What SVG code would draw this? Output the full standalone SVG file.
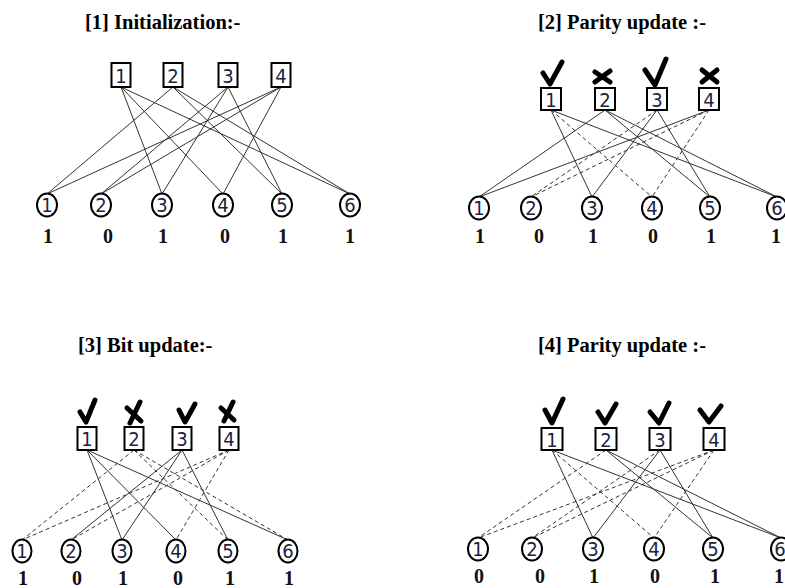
<svg xmlns="http://www.w3.org/2000/svg" width="785" height="588" viewBox="0 0 785 588">
  <style>
    .title { font-family: "Liberation Serif", serif; font-weight: bold; font-size: 20.5px; fill: #000; }
    .bit { font-family: "Liberation Serif", serif; font-weight: bold; font-size: 20px; fill: #111; text-anchor: middle; }
    .chk rect { fill: #fff; stroke: #000; stroke-width: 2; }
    .var ellipse { fill: #fff; stroke: #000; stroke-width: 2; }
    .num { font-family: "Liberation Sans Narrow", "DejaVu Sans Condensed", sans-serif; font-size: 20px; fill: #1b2440; text-anchor: middle; }
    .edge { stroke: #333; stroke-width: 1; fill: none; }
    .dash { stroke-dasharray: 4 3; }
    .tick { fill: none; stroke: #000; stroke-width: 5; stroke-linecap: round; stroke-linejoin: round; }
  </style>
  <rect width="785" height="588" fill="#fff"/>

  <!-- Titles -->
  <text class="title" x="85" y="29">[1] Initialization:-</text>
  <text class="title" x="538" y="29">[2] Parity update :-</text>
  <text class="title" x="78" y="352">[3] Bit update:-</text>
  <text class="title" x="538" y="352">[4] Parity update :-</text>

  <!-- Connectors: check node bottom to bit node top -->
  <g id="connectors">
    <!-- Panel 1 -->
    <g id="p1-edges">
      <line class="edge" x1="121" y1="87" x2="162" y2="194"/>
      <line class="edge" x1="121" y1="87" x2="223" y2="194"/>
      <line class="edge" x1="121" y1="87" x2="350" y2="194"/>
      <line class="edge" x1="173" y1="87" x2="47" y2="194"/>
      <line class="edge" x1="173" y1="87" x2="282" y2="194"/>
      <line class="edge" x1="173" y1="87" x2="350" y2="194"/>
      <line class="edge" x1="228" y1="87" x2="101" y2="194"/>
      <line class="edge" x1="228" y1="87" x2="162" y2="194"/>
      <line class="edge" x1="228" y1="87" x2="282" y2="194"/>
      <line class="edge" x1="281" y1="87" x2="47" y2="194"/>
      <line class="edge" x1="281" y1="87" x2="101" y2="194"/>
      <line class="edge" x1="281" y1="87" x2="223" y2="194"/>
    </g>
    <!-- Panel 2 -->
    <g id="p2-edges">
      <line class="edge" x1="551" y1="110" x2="592" y2="197"/>
      <line class="edge dash" x1="551" y1="110" x2="652" y2="197"/>
      <line class="edge" x1="551" y1="110" x2="777" y2="197"/>
      <line class="edge" x1="605" y1="110" x2="479" y2="197"/>
      <line class="edge" x1="605" y1="110" x2="710" y2="197"/>
      <line class="edge" x1="605" y1="110" x2="777" y2="197"/>
      <line class="edge dash" x1="657" y1="110" x2="531" y2="197"/>
      <line class="edge" x1="657" y1="110" x2="592" y2="197"/>
      <line class="edge" x1="657" y1="110" x2="710" y2="197"/>
      <line class="edge" x1="709" y1="110" x2="479" y2="197"/>
      <line class="edge dash" x1="709" y1="110" x2="531" y2="197"/>
      <line class="edge dash" x1="709" y1="110" x2="652" y2="197"/>
    </g>
    <!-- Panel 3 -->
    <g id="p3-edges">
      <line class="edge" x1="87" y1="450" x2="122" y2="540"/>
      <line class="edge" x1="87" y1="450" x2="176" y2="540"/>
      <line class="edge" x1="87" y1="450" x2="288" y2="540"/>
      <line class="edge dash" x1="134" y1="450" x2="22" y2="540"/>
      <line class="edge dash" x1="134" y1="450" x2="228" y2="540"/>
      <line class="edge dash" x1="134" y1="450" x2="288" y2="540"/>
      <line class="edge" x1="182" y1="450" x2="71" y2="540"/>
      <line class="edge" x1="182" y1="450" x2="122" y2="540"/>
      <line class="edge" x1="182" y1="450" x2="228" y2="540"/>
      <line class="edge dash" x1="229" y1="450" x2="22" y2="540"/>
      <line class="edge dash" x1="229" y1="450" x2="71" y2="540"/>
      <line class="edge dash" x1="229" y1="450" x2="176" y2="540"/>
    </g>
    <!-- Panel 4 -->
    <g id="p4-edges">
      <line class="edge" x1="552" y1="450" x2="593" y2="538"/>
      <line class="edge dash" x1="552" y1="450" x2="654" y2="538"/>
      <line class="edge" x1="552" y1="450" x2="781" y2="538"/>
      <line class="edge dash" x1="606" y1="450" x2="478" y2="538"/>
      <line class="edge" x1="606" y1="450" x2="713" y2="538"/>
      <line class="edge" x1="606" y1="450" x2="781" y2="538"/>
      <line class="edge dash" x1="660" y1="450" x2="532" y2="538"/>
      <line class="edge" x1="660" y1="450" x2="593" y2="538"/>
      <line class="edge" x1="660" y1="450" x2="713" y2="538"/>
      <line class="edge dash" x1="714" y1="450" x2="478" y2="538"/>
      <line class="edge dash" x1="714" y1="450" x2="532" y2="538"/>
      <line class="edge dash" x1="714" y1="450" x2="654" y2="538"/>
    </g>
  </g>

  <!-- Panel 1 check nodes -->
  <g id="p1-c1" class="chk"><rect x="111.5" y="63" width="19" height="24"/><text class="num" x="121" y="83">1</text></g>
  <g id="p1-c2" class="chk"><rect x="163.5" y="63" width="19" height="24"/><text class="num" x="173" y="83">2</text></g>
  <g id="p1-c3" class="chk"><rect x="218.5" y="63" width="19" height="24"/><text class="num" x="228" y="83">3</text></g>
  <g id="p1-c4" class="chk"><rect x="271.5" y="63" width="19" height="24"/><text class="num" x="281" y="83">4</text></g>
  <!-- Panel 1 bit nodes -->
  <g id="p1-v1" class="var"><ellipse cx="47" cy="205" rx="10" ry="11.5"/><text class="num" x="47" y="212">1</text><text class="bit" x="48" y="243">1</text></g>
  <g id="p1-v2" class="var"><ellipse cx="101" cy="205" rx="10" ry="11.5"/><text class="num" x="101" y="212">2</text><text class="bit" x="108" y="243">0</text></g>
  <g id="p1-v3" class="var"><ellipse cx="162" cy="205" rx="10" ry="11.5"/><text class="num" x="162" y="212">3</text><text class="bit" x="163" y="243">1</text></g>
  <g id="p1-v4" class="var"><ellipse cx="223" cy="205" rx="10" ry="11.5"/><text class="num" x="223" y="212">4</text><text class="bit" x="225" y="243">0</text></g>
  <g id="p1-v5" class="var"><ellipse cx="282" cy="205" rx="10" ry="11.5"/><text class="num" x="282" y="212">5</text><text class="bit" x="283" y="243">1</text></g>
  <g id="p1-v6" class="var"><ellipse cx="350" cy="205" rx="10" ry="11.5"/><text class="num" x="350" y="212">6</text><text class="bit" x="350" y="243">1</text></g>

  <!-- Panel 2 check nodes with parity marks -->
  <g id="p2-c1" class="chk"><path class="tick" d="M543,73 L550,84 L562,62"/><rect x="541" y="88" width="20" height="22"/><text class="num" x="551" y="107">1</text></g>
  <g id="p2-c2" class="chk"><path class="tick" d="M595,72 L610,82 M610,71 L595,82"/><rect x="595" y="88" width="20" height="22"/><text class="num" x="605" y="107">2</text></g>
  <g id="p2-c3" class="chk"><path class="tick" d="M645,70 L655,85 L666,59"/><rect x="647" y="88" width="20" height="22"/><text class="num" x="657" y="107">3</text></g>
  <g id="p2-c4" class="chk"><path class="tick" d="M702,70 L717,82 M717,70 L702,82"/><rect x="699" y="88" width="20" height="22"/><text class="num" x="709" y="107">4</text></g>
  <!-- Panel 2 bit nodes -->
  <g id="p2-v1" class="var"><ellipse cx="479" cy="208" rx="10" ry="11.5"/><text class="num" x="479" y="215">1</text><text class="bit" x="480" y="243">1</text></g>
  <g id="p2-v2" class="var"><ellipse cx="531" cy="208" rx="10" ry="11.5"/><text class="num" x="531" y="215">2</text><text class="bit" x="539" y="243">0</text></g>
  <g id="p2-v3" class="var"><ellipse cx="592" cy="208" rx="10" ry="11.5"/><text class="num" x="592" y="215">3</text><text class="bit" x="593" y="243">1</text></g>
  <g id="p2-v4" class="var"><ellipse cx="652" cy="208" rx="10" ry="11.5"/><text class="num" x="652" y="215">4</text><text class="bit" x="653" y="243">0</text></g>
  <g id="p2-v5" class="var"><ellipse cx="710" cy="208" rx="10" ry="11.5"/><text class="num" x="710" y="215">5</text><text class="bit" x="711" y="243">1</text></g>
  <g id="p2-v6" class="var"><ellipse cx="777" cy="208" rx="10" ry="11.5"/><text class="num" x="777" y="215">6</text><text class="bit" x="776" y="243">1</text></g>

  <!-- Panel 3 check nodes with parity marks -->
  <g id="p3-c1" class="chk"><path class="tick" d="M80,412 L86,422 L95,400"/><rect x="77.5" y="427" width="19" height="23"/><text class="num" x="87" y="446">1</text></g>
  <g id="p3-c2" class="chk"><path class="tick" d="M127,408 L141,421 M140,402 L130,423"/><rect x="124.5" y="427" width="19" height="23"/><text class="num" x="134" y="446">2</text></g>
  <g id="p3-c3" class="chk"><path class="tick" d="M179,410 L185,422 L195,404"/><rect x="172.5" y="427" width="19" height="23"/><text class="num" x="182" y="446">3</text></g>
  <g id="p3-c4" class="chk"><path class="tick" d="M221,408 L234,420 M233,402 L224,421"/><rect x="219.5" y="427" width="19" height="23"/><text class="num" x="229" y="446">4</text></g>
  <!-- Panel 3 bit nodes -->
  <g id="p3-v1" class="var"><ellipse cx="22" cy="551" rx="9.5" ry="11.5"/><text class="num" x="22" y="558">1</text><text class="bit" x="23" y="585">1</text></g>
  <g id="p3-v2" class="var"><ellipse cx="71" cy="551" rx="9.5" ry="11.5"/><text class="num" x="71" y="558">2</text><text class="bit" x="77" y="585">0</text></g>
  <g id="p3-v3" class="var"><ellipse cx="122" cy="551" rx="9.5" ry="11.5"/><text class="num" x="122" y="558">3</text><text class="bit" x="123" y="585">1</text></g>
  <g id="p3-v4" class="var"><ellipse cx="176" cy="551" rx="9.5" ry="11.5"/><text class="num" x="176" y="558">4</text><text class="bit" x="178" y="585">0</text></g>
  <g id="p3-v5" class="var"><ellipse cx="228" cy="551" rx="9.5" ry="11.5"/><text class="num" x="228" y="558">5</text><text class="bit" x="230" y="585">1</text></g>
  <g id="p3-v6" class="var"><ellipse cx="288" cy="551" rx="9.5" ry="11.5"/><text class="num" x="288" y="558">6</text><text class="bit" x="289" y="585">1</text></g>

  <!-- Panel 4 check nodes with parity marks -->
  <g id="p4-c1" class="chk"><path class="tick" d="M545,410 L552,423 L563,399"/><rect x="541.5" y="428" width="21" height="22"/><text class="num" x="552" y="447">1</text></g>
  <g id="p4-c2" class="chk"><path class="tick" d="M598,412 L605,423 L616,404"/><rect x="595.5" y="428" width="21" height="22"/><text class="num" x="606" y="447">2</text></g>
  <g id="p4-c3" class="chk"><path class="tick" d="M650,412 L659,423 L669,403"/><rect x="649.5" y="428" width="21" height="22"/><text class="num" x="660" y="447">3</text></g>
  <g id="p4-c4" class="chk"><path class="tick" d="M700,410 L709,422 L721,406"/><rect x="703.5" y="428" width="21" height="22"/><text class="num" x="714" y="447">4</text></g>
  <!-- Panel 4 bit nodes -->
  <g id="p4-v1" class="var"><ellipse cx="478" cy="549" rx="10" ry="11.5"/><text class="num" x="478" y="556">1</text><text class="bit" x="479" y="583">0</text></g>
  <g id="p4-v2" class="var"><ellipse cx="532" cy="549" rx="10" ry="11.5"/><text class="num" x="532" y="556">2</text><text class="bit" x="540" y="583">0</text></g>
  <g id="p4-v3" class="var"><ellipse cx="593" cy="549" rx="10" ry="11.5"/><text class="num" x="593" y="556">3</text><text class="bit" x="594" y="583">1</text></g>
  <g id="p4-v4" class="var"><ellipse cx="654" cy="549" rx="10" ry="11.5"/><text class="num" x="654" y="556">4</text><text class="bit" x="655" y="583">0</text></g>
  <g id="p4-v5" class="var"><ellipse cx="713" cy="549" rx="10" ry="11.5"/><text class="num" x="713" y="556">5</text><text class="bit" x="715" y="583">1</text></g>
  <g id="p4-v6" class="var"><ellipse cx="781" cy="549" rx="10" ry="11.5"/><text class="num" x="780" y="556">6</text><text class="bit" x="779" y="583">1</text></g>
</svg>
